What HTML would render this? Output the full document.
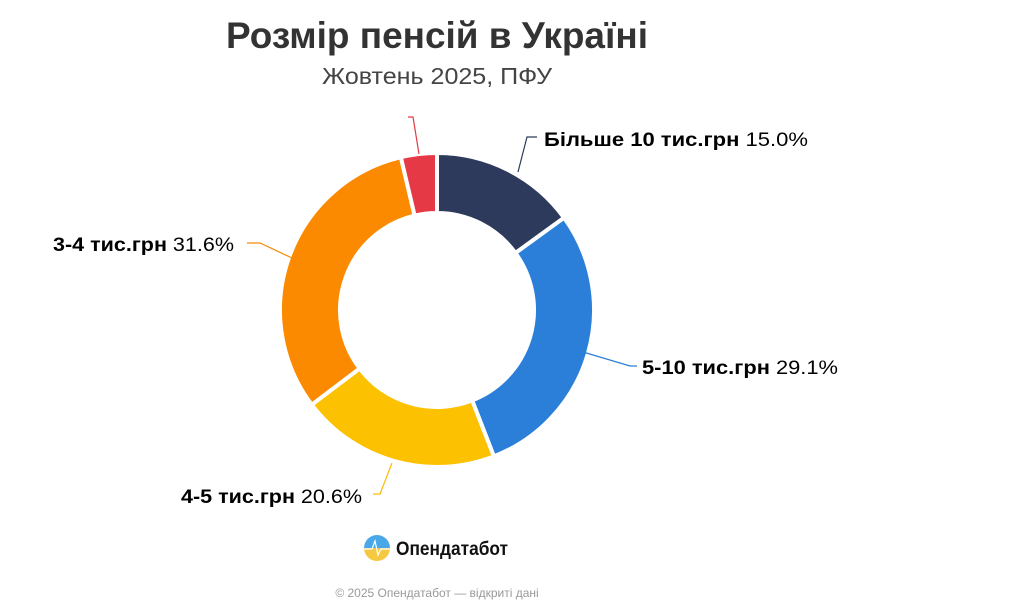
<!DOCTYPE html>
<html><head><meta charset="utf-8"><style>
html,body{margin:0;padding:0;background:#fff;width:1033px;height:616px;overflow:hidden}
svg{display:block;font-family:"Liberation Sans",Arial,sans-serif}
</style></head><body>
<svg id="s" width="1033" height="616" viewBox="0 0 1033 616">
<text x="226" y="48" font-size="37" font-weight="bold" fill="#333" textLength="422" lengthAdjust="spacingAndGlyphs">Розмір пенсій в Україні</text>
<text x="322" y="84" font-size="23" fill="#444" textLength="230" lengthAdjust="spacingAndGlyphs">Жовтень 2025, ПФУ</text>
<g id="pie"></g>
<g fill="none" stroke-width="1.2">
<polyline points="408,117 413,117 419,154" stroke="#e03a45"/>
<polyline points="518,172 527,137 537,137" stroke="#2e3a5c"/>
<polyline points="583,352 630,366 637,366" stroke="#2b7fd9"/>
<polyline points="247,243 260,243 292,258" stroke="#f58a07"/>
<polyline points="373,494 380,494 392,463" stroke="#f9be03"/>
</g>
<g font-size="19.5" fill="#000">
<text x="544" y="146" textLength="264" lengthAdjust="spacingAndGlyphs"><tspan font-weight="bold">Більше 10 тис.грн</tspan> 15.0%</text>
<text x="642" y="374" textLength="196" lengthAdjust="spacingAndGlyphs"><tspan font-weight="bold">5-10 тис.грн</tspan> 29.1%</text>
<text x="53" y="251" textLength="181" lengthAdjust="spacingAndGlyphs"><tspan font-weight="bold">3-4 тис.грн</tspan> 31.6%</text>
<text x="181" y="503" textLength="181" lengthAdjust="spacingAndGlyphs"><tspan font-weight="bold">4-5 тис.грн</tspan> 20.6%</text>
</g>
<defs><linearGradient id="lg" x1="0" y1="0" x2="0" y2="1"><stop offset="0.5" stop-color="#4aa8e8"/><stop offset="0.5" stop-color="#f5c842"/></linearGradient></defs>
<circle cx="377" cy="548" r="13" fill="url(#lg)"/>
<polyline points="364,549 372,549 375,541 378,555 381,549 390,549" fill="none" stroke="#fff" stroke-width="1.2"/>
<text x="396" y="555" font-size="19" font-weight="bold" fill="#111" textLength="112" lengthAdjust="spacingAndGlyphs">Опендатабот</text>
<text x="437" y="597" text-anchor="middle" font-size="12" fill="#999">© 2025 Опендатабот — відкриті дані</text>
</svg>
<script>
var cx=437,cy=310,R=157,r=97;
var d=[[15.0,"#2e3a5c"],[29.1,"#2b7fd9"],[20.6,"#fcc100"],[31.6,"#fb8a00"],[3.7,"#e63946"]];
var a=0,g=document.getElementById("pie"),h="";
function p(rad,ang){return (cx+rad*Math.sin(ang)).toFixed(2)+","+(cy-rad*Math.cos(ang)).toFixed(2);}
d.forEach(function(s){var a0=a/100*2*Math.PI;a+=s[0];var a1=a/100*2*Math.PI;var L=(a1-a0)>Math.PI?1:0;
h+='<path d="M'+p(R,a0)+' A'+R+','+R+' 0 '+L+' 1 '+p(R,a1)+' L'+p(r,a1)+' A'+r+','+r+' 0 '+L+' 0 '+p(r,a0)+' Z" fill="'+s[1]+'" stroke="#fff" stroke-width="4" stroke-linejoin="round"/>';});
g.innerHTML=h;
</script>
</body></html>
